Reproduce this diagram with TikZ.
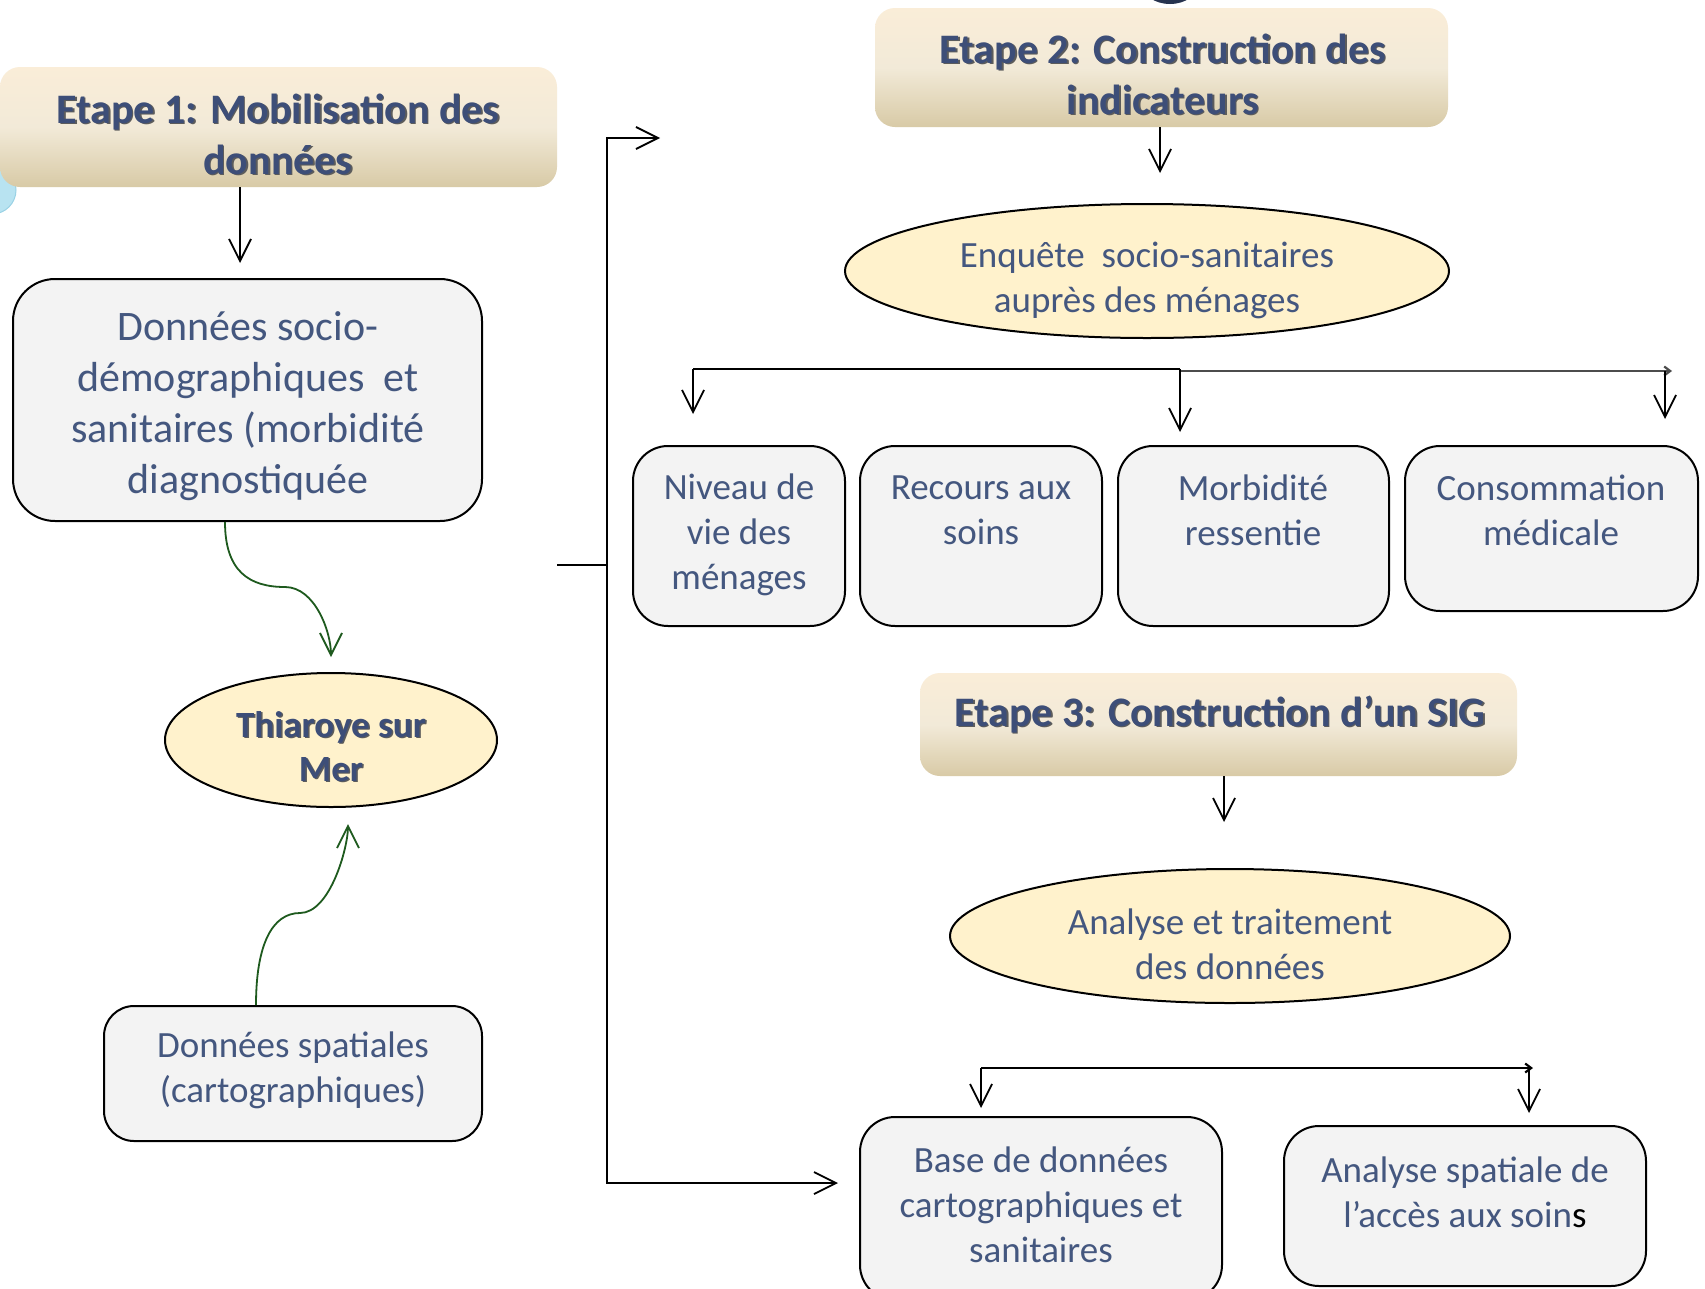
\documentclass[tikz,border=0pt]{standalone}
\usepackage{fontspec}
\setmainfont{Carlito}
\usetikzlibrary{shapes.geometric,arrows.meta}

\definecolor{txtc}{HTML}{44577F}
\definecolor{hdrc}{HTML}{3D4E78}
\definecolor{boxfill}{HTML}{F3F3F3}
\definecolor{ellfill}{HTML}{FFF2CC}
\definecolor{hdrtop}{HTML}{FAEDD8}
\definecolor{hdrmid}{HTML}{F2EAD8}
\definecolor{hdrbot}{HTML}{D8CAA6}
\definecolor{greenc}{HTML}{1E5A1E}
\definecolor{navyc}{HTML}{27334F}
\definecolor{cyanc}{HTML}{B8E3F1}
\definecolor{cyanedge}{HTML}{9AD2E5}
\definecolor{shdc}{HTML}{262626}

\newcommand\shd[1]{\leavevmode\rlap{\kern1.5pt\raisebox{-1.5pt}{\textcolor{shdc!75}{#1}}}#1}

\tikzset{
  hdrbox/.style={rectangle, rounded corners=20pt, draw=none, top color=hdrtop, bottom color=hdrbot, middle color=hdrmid, inner sep=0pt},
  gbox/.style={rectangle, rounded corners=35pt, draw=black, line width=2pt, fill=boxfill, inner sep=0pt},
  yell/.style={ellipse, draw=black, line width=2pt, fill=ellfill, inner sep=0pt},
  hdrtxt/.style={align=center, text=hdrc, font=\fontsize{42}{51}\selectfont\bfseries, inner sep=0pt},
  bigtxt/.style={align=center, text=txtc, font=\fontsize{42}{51}\selectfont, inner sep=0pt},
  bodytxt/.style={align=center, text=txtc, font=\fontsize{37}{45}\selectfont, inner sep=0pt},
  boldtxt/.style={align=center, text=hdrc, font=\fontsize{37}{44}\selectfont\bfseries, inner sep=0pt},
  line/.style={draw=black, line width=1.8pt},
  arr/.style={line, -{Straight Barb[length=22pt,width=22pt]}},
  garr/.style={draw=greenc, line width=1.8pt, -{Straight Barb[length=22pt,width=22pt]}},
  smallarr/.style={draw=black!70, line width=2.2pt, -{Straight Barb[length=6pt,width=9pt]}}
}

\begin{document}
\begin{tikzpicture}[x=1pt,y=-1pt]
\useasboundingbox (0,0) rectangle (1705,1288);
\fill[white] (0,0) rectangle (1705,1288);

% decorative fragments at the edges
\fill[navyc] (1170,-16) ellipse [x radius=28pt, y radius=20pt];
\filldraw[fill=cyanc, draw=cyanedge, line width=1pt] (-8,190) circle [radius=24pt];

% shapes
\node[hdrbox, minimum width=557pt, minimum height=120pt] (e1) at (278.5,127) {};
\node[gbox, rounded corners=42pt, minimum width=469pt, minimum height=242pt] (socio) at (247.5,400) {};
\node[yell, minimum width=332pt, minimum height=134pt] (thia) at (331,740) {};
\node[gbox, rounded corners=30pt, minimum width=378pt, minimum height=135pt] (spat) at (293,1073.5) {};

\node[hdrbox, minimum width=573pt, minimum height=119pt] (e2) at (1161.5,67.5) {};
\node[yell, minimum width=604pt, minimum height=134pt] (enq) at (1147,271) {};
\node[gbox, minimum width=212pt, minimum height=180pt] (niv) at (739,536) {};
\node[gbox, minimum width=242pt, minimum height=180pt] (rec) at (981,536) {};
\node[gbox, minimum width=271pt, minimum height=180pt] (mor) at (1253.5,536) {};
\node[gbox, minimum width=293pt, minimum height=165pt] (con) at (1551.5,528.5) {};

\node[hdrbox, minimum width=597pt, minimum height=103pt] (e3) at (1218.5,724.5) {};
\node[yell, minimum width=560pt, minimum height=134pt] (ana) at (1230,936) {};
\node[gbox, minimum width=362pt, minimum height=183pt] (base) at (1041,1208.5) {};
\node[gbox, minimum width=362pt, minimum height=160pt] (aspa) at (1465,1206) {};

% texts
\node[hdrtxt] (e1t) at (278,135) {\shd{Etape 1: Mobilisation des}\\\shd{données}};
\node[bigtxt] (sociot) at (248,406) {Données socio-\\démographiques\ \ et\\sanitaires (morbidité\\diagnostiquée};
\node[boldtxt] (thiat) at (331,747) {\shd{Thiaroye sur}\\\shd{Mer}};
\node[bodytxt] (spatt) at (293,1070) {Données spatiales\\(cartographiques)};
\node[hdrtxt] (e2t) at (1163,75) {\shd{Etape 2: Construction des}\\\shd{indicateurs}};
\node[bodytxt] (enqt) at (1147,280) {Enquête\ \ socio-sanitaires\\auprès des ménages};
\node[bodytxt] (nivt) at (739,535) {Niveau de\\vie des\\ménages};
\node[bodytxt] (rect) at (981,510) {Recours aux\\soins};
\node[bodytxt] (mort) at (1253,510) {Morbidité\\ressentie};
\node[bodytxt] (cont) at (1551,510) {Consommation\\médicale};
\node[hdrtxt] (e3t) at (1220,715) {\shd{Etape 3: Construction d’un SIG}};
\node[bodytxt] (anat) at (1230,944) {Analyse et traitement\\des données};
\node[bodytxt] (baset) at (1041,1205) {Base de données\\cartographiques et\\sanitaires};
\node[bodytxt] (aspat) at (1465,1192) {Analyse spatiale de\\l’accès aux soin{\color{black}s}};

% helper coordinates
\coordinate (x1) at (240,0);
\coordinate (gx1) at (225,0);
\coordinate (gm1) at (285,587);
\coordinate (gx2) at (256,0);
\coordinate (gm2) at (300,913);
\coordinate (bs) at (557,565);
\coordinate (bx) at (607,565);
\coordinate (bt) at (660,138);
\coordinate (bb) at (838,1183);
\coordinate (x2) at (1160,0);
\coordinate (b1l) at (693,369);
\coordinate (b1m) at (1180,369);
\coordinate (b1r) at (1672,371);
\coordinate (b1d) at (1665,371);
\coordinate (x3) at (1224,0);
\coordinate (b2l) at (981,1068);
\coordinate (b2r) at (1533,1068);
\coordinate (b2d) at (1529,1068);

% connectors, step 1
\draw[arr, shorten >=15pt] (e1.south -| x1) -- (socio.north -| x1);
\draw[garr, shorten >=15pt] (socio.south -| gx1) .. controls +(0,50) and +(-35,0) .. (gm1)
   .. controls +(30,0) and +(0,-40) .. (thia.north);
\draw[garr, shorten >=16pt] (spat.north -| gx2) .. controls +(0,-60) and +(-28,0) .. (gm2)
   .. controls +(30,0) and +(0,40) .. ([xshift=17pt]thia.south);

% bracket
\draw[line] (bs) -- (bx);
\draw[arr] (bx) |- (bt);
\draw[arr] (bx) |- (bb);

% step 2
\draw[arr, shorten >=30pt] (e2.south -| x2) -- (enq.north -| x2);
\draw[line] (b1l) -- (b1m);
\draw[smallarr] ([yshift=-2pt]b1m) -- (b1r);
\draw[arr, shorten >=31pt] (b1l) -- (niv.north -| b1l);
\draw[arr, shorten >=13pt] (b1m) -- (mor.north -| b1m);
\draw[arr, shorten >=26pt] (b1d) -- (con.north -| b1d);

% step 3
\draw[arr, shorten >=46pt] (e3.south -| x3) -- (ana.north -| x3);
\draw[smallarr, draw=black] (b2l) -- (b2r);
\draw[arr, shorten >=8pt] (b2l) -- (base.north -| b2l);
\draw[arr, shorten >=12pt] (b2d) -- (aspa.north -| b2d);
\end{tikzpicture}
\end{document}
